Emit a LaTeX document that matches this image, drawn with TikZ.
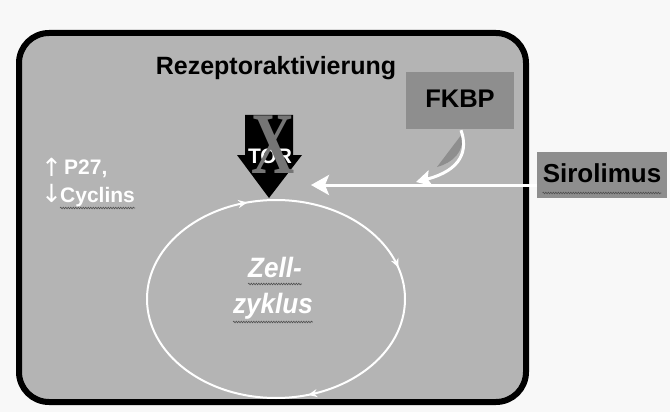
\documentclass[tikz,border=0pt]{standalone}
\usepackage{fontspec}
\setmainfont{Liberation Sans}
\newfontfamily\serifX{Liberation Serif}
\newfontfamily\arrowfont{DejaVu Sans}
\usetikzlibrary{arrows.meta,decorations.pathmorphing,decorations.markings,calc}
\definecolor{bgc}{HTML}{F8F8F8}
\definecolor{cellc}{HTML}{B4B4B4}
\definecolor{boxc}{HTML}{8E8E8E}
\definecolor{xc}{HTML}{757575}
\definecolor{wavec}{HTML}{505050}
\begin{document}
\begin{tikzpicture}[x=1pt,y=-1pt,
  blacktext/.style={font=\bfseries\fontsize{25}{30}\selectfont, inner sep=0pt, anchor=base, text=black},
  graybox/.style={fill=boxc, draw=none, inner sep=0pt},
  whitebold/.style={font=\bfseries\fontsize{21}{24}\selectfont, inner sep=0pt, anchor=base west, text=white},
  cycletext/.style={font=\bfseries\itshape\fontsize{28}{32}\selectfont, inner sep=0pt, anchor=base, text=white, xscale=0.93},
  wave/.style={draw=wavec, line width=0.6pt, decorate, decoration={snake, amplitude=0.8pt, segment length=2.5pt}},
  whitearrow/.style={draw=white, line width=3pt}]
\fill[bgc] (0,0) rectangle (670,412);
\useasboundingbox (0,0) rectangle (670,412);
% cell
\draw[line width=6pt, rounded corners=30pt, fill=cellc] (19,33) rectangle (526,402);
% title
\node[blacktext] (rez) at (276,75) {Rezeptoraktivierung};
% FKBP box
\node[graybox, minimum width=108pt, minimum height=57pt] (fkbp) at (460,100.5) {};
\node[blacktext, font=\bfseries\fontsize{25.5}{30}\selectfont] (fkbpt) at (460,108) {FKBP};
% Sirolimus box
\node[graybox, minimum width=130pt, minimum height=46pt] (siro) at (602,175) {};
\node[blacktext, font=\bfseries\fontsize{26}{30}\selectfont] (sirot) at (602,182) {Sirolimus};
\draw[wave] ($(sirot.base west)+(0,11)$) -- ($(sirot.base east)+(0,11)$);
% cell cycle ellipse
\draw[draw=white, line width=2pt,
  postaction={decorate, decoration={markings,
    mark=at position 0.205 with {\arrow[white]{Stealth[length=9pt,width=8pt]}},
    mark=at position 0.71 with {\arrow[white]{Stealth[length=9pt,width=8pt]}},
    mark=at position 0.955 with {\arrow[white]{Stealth[length=9pt,width=8pt]}}}}]
  (276,299) ellipse (129 and 99);
\node[cycletext] (zell) at (275,277) {Zell-};
\node[cycletext] (zyk) at (273,313) {zyklus};
\draw[wave] ($(zell.base west)+(0,7)$) -- ($(zell.base east)+(0,7)$);
\draw[wave] ($(zyk.base west)+(0,9)$) -- ($(zyk.base east)+(0,9)$);
% TOR arrow
\fill[black] (245,115) -- (293,115) -- (293,155) -- (302,155) -- (269,198) -- (237,155) -- (245,155) -- cycle;
\node[inner sep=0pt, anchor=base, text=white, font=\bfseries\fontsize{21}{24}\selectfont] (tor) at (270,163) {TOR};
\node[inner sep=0pt, anchor=base, text=xc, font=\serifX\bfseries\fontsize{88}{90}\selectfont, xscale=0.68] (xmark) at (273,173) {X};
% Sirolimus arrow
\coordinate (sirotail) at (537,185);
\coordinate (sirotip) at (311,185);
\draw[whitearrow, -{Stealth[length=18pt,width=20pt,inset=4pt]}] (sirotail) -- (sirotip);
% FKBP curved arrow
\fill[boxc] (462,134) -- (437,167) .. controls (452,163) and (465,152) .. (462,134) -- cycle;
\coordinate (fkbptip) at (416,182);
\draw[whitearrow, -{Stealth[length=15pt,width=16pt,inset=3pt]}] ($(fkbp.south)+(1,1)$) .. controls (468,150) and (462,170) .. (fkbptip);
% left labels
\node[whitebold] (uarr) at (41,176) {\arrowfont\mdseries\fontsize{25}{28}\selectfont\char"2191};
\node[whitebold] (p27) at (64,175) {P27,};
\node[whitebold] (darr) at (41,202) {\arrowfont\mdseries\fontsize{25}{28}\selectfont\char"2193};
\node[whitebold] (cyc) at (60,202) {Cyclins};
\draw[wave] ($(cyc.base west)+(0,6)$) -- ($(cyc.base east)+(0,6)$);
\end{tikzpicture}
\end{document}
